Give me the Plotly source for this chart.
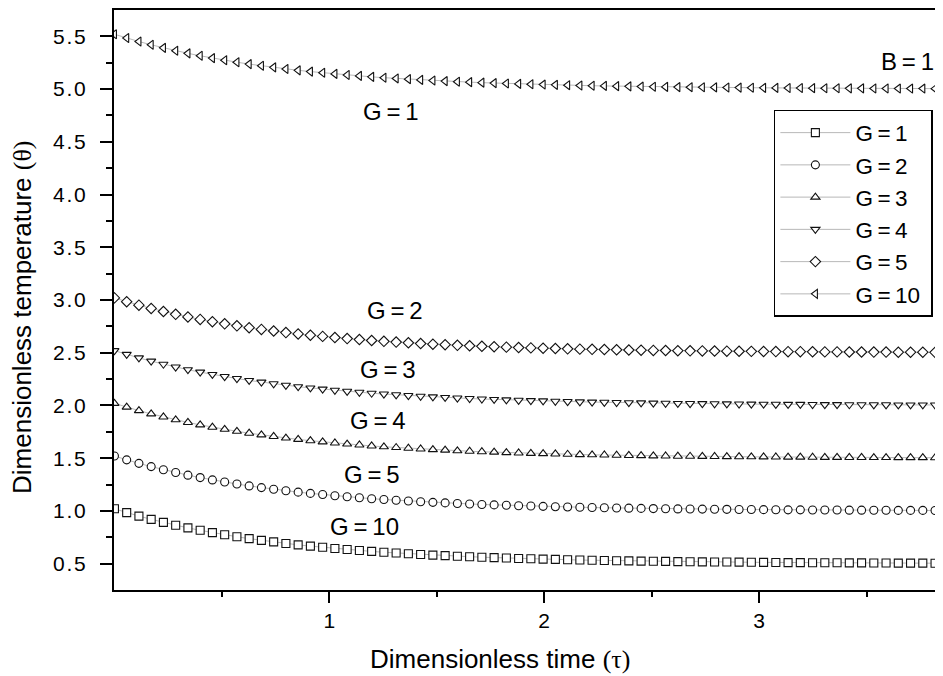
import plotly.graph_objects as go

tau = [0.000,0.057,0.114,0.171,0.228,0.285,0.342,0.399,0.456,0.513,
       0.570,0.627,0.684,0.741,0.798,0.855,0.912,0.969,1.026,1.083,
       1.140,1.197,1.254,1.311,1.368,1.425,1.482,1.539,1.596,1.653,
       1.710,1.767,1.824,1.881,1.938,1.995,2.052,2.109,2.166,2.223,
       2.280,2.337,2.394,2.451,2.508,2.565,2.622,2.679,2.736,2.793,
       2.850,2.907,2.964,3.021,3.078,3.135,3.192,3.249,3.306,3.363,
       3.420,3.477,3.534,3.591,3.648,3.705,3.762,3.819,3.876]

theta_sq = [1.020,0.984,0.951,0.920,0.891,0.864,0.839,0.816,0.794,0.774,
            0.755,0.737,0.721,0.706,0.691,0.678,0.666,0.655,0.644,0.634,
            0.625,0.616,0.608,0.601,0.594,0.587,0.581,0.576,0.570,0.566,
            0.561,0.557,0.553,0.549,0.546,0.543,0.540,0.537,0.534,0.532,
            0.530,0.528,0.526,0.524,0.522,0.521,0.519,0.518,0.517,0.516,
            0.515,0.514,0.513,0.512,0.511,0.510,0.510,0.509,0.508,0.508,
            0.507,0.507,0.506,0.506,0.505,0.505,0.505,0.504,0.504]

theta_ci = [1.520,1.484,1.451,1.420,1.391,1.364,1.339,1.316,1.294,1.274,
            1.255,1.237,1.221,1.206,1.191,1.178,1.166,1.155,1.144,1.134,
            1.125,1.116,1.108,1.101,1.094,1.087,1.081,1.076,1.070,1.066,
            1.061,1.057,1.053,1.049,1.046,1.043,1.040,1.037,1.034,1.032,
            1.030,1.028,1.026,1.024,1.022,1.021,1.019,1.018,1.017,1.016,
            1.015,1.014,1.013,1.012,1.011,1.010,1.010,1.009,1.008,1.008,
            1.007,1.007,1.006,1.006,1.005,1.005,1.005,1.004,1.004]

theta_tu = [2.020,1.984,1.951,1.920,1.891,1.864,1.839,1.816,1.794,1.774,
            1.755,1.737,1.721,1.706,1.691,1.678,1.666,1.655,1.644,1.634,
            1.625,1.616,1.608,1.601,1.594,1.587,1.581,1.576,1.570,1.566,
            1.561,1.557,1.553,1.549,1.546,1.543,1.540,1.537,1.534,1.532,
            1.530,1.528,1.526,1.524,1.522,1.521,1.519,1.518,1.517,1.516,
            1.515,1.514,1.513,1.512,1.511,1.510,1.510,1.509,1.508,1.508,
            1.507,1.507,1.506,1.506,1.505,1.505,1.505,1.504,1.504]

theta_td = [2.520,2.484,2.451,2.420,2.391,2.364,2.339,2.316,2.294,2.274,
            2.255,2.237,2.221,2.206,2.191,2.178,2.166,2.155,2.144,2.134,
            2.125,2.116,2.108,2.101,2.094,2.087,2.081,2.076,2.070,2.066,
            2.061,2.057,2.053,2.049,2.046,2.043,2.040,2.037,2.034,2.032,
            2.030,2.028,2.026,2.024,2.022,2.021,2.019,2.018,2.017,2.016,
            2.015,2.014,2.013,2.012,2.011,2.010,2.010,2.009,2.008,2.008,
            2.007,2.007,2.006,2.006,2.005,2.005,2.005,2.004,2.004]

theta_di = [3.020,2.984,2.951,2.920,2.891,2.864,2.839,2.816,2.794,2.774,
            2.755,2.737,2.721,2.706,2.691,2.678,2.666,2.655,2.644,2.634,
            2.625,2.616,2.608,2.601,2.594,2.587,2.581,2.576,2.570,2.566,
            2.561,2.557,2.553,2.549,2.546,2.543,2.540,2.537,2.534,2.532,
            2.530,2.528,2.526,2.524,2.522,2.521,2.519,2.518,2.517,2.516,
            2.515,2.514,2.513,2.512,2.511,2.510,2.510,2.509,2.508,2.508,
            2.507,2.507,2.506,2.506,2.505,2.505,2.505,2.504,2.504]

theta_tl = [5.520,5.484,5.451,5.420,5.391,5.364,5.339,5.316,5.294,5.274,
            5.255,5.237,5.221,5.206,5.191,5.178,5.166,5.155,5.144,5.134,
            5.125,5.116,5.108,5.101,5.094,5.087,5.081,5.076,5.070,5.066,
            5.061,5.057,5.053,5.049,5.046,5.043,5.040,5.037,5.034,5.032,
            5.030,5.028,5.026,5.024,5.022,5.021,5.019,5.018,5.017,5.016,
            5.015,5.014,5.013,5.012,5.011,5.010,5.010,5.009,5.008,5.008,
            5.007,5.007,5.006,5.006,5.005,5.005,5.005,5.004,5.004]

legend_names = ["G\u2009=\u20091", "G\u2009=\u20092", "G\u2009=\u20093",
                "G\u2009=\u20094", "G\u2009=\u20095", "G\u2009=\u200910"]
series = [theta_sq, theta_ci, theta_tu, theta_td, theta_di, theta_tl]
symbols = ["square", "circle", "triangle-up", "triangle-down", "diamond", "triangle-left"]

curve_labels = ["G\u2009=\u20091", "G\u2009=\u20092", "G\u2009=\u20093",
                "G\u2009=\u20094", "G\u2009=\u20095", "G\u2009=\u200910"]
label_x = [1.286, 1.304, 1.272, 1.225, 1.197, 1.164]
label_y = [4.783, 2.90, 2.34, 1.857, 1.345, 0.853]

y_tickvals = [0.5, 1.0, 1.5, 2.0, 2.5, 3.0, 3.5, 4.0, 4.5, 5.0, 5.5]
y_ticktext = ["0.5", "1.0", "1.5", "2.0", "2.5", "3.0", "3.5", "4.0", "4.5", "5.0", "5.5"]
x_tickvals = [1, 2, 3]
x_ticktext = ["1", "2", "3"]

FONT = "Arial, Liberation Sans, sans-serif"
HS = "\u200a"

fig = go.Figure()
for name, ys, sym in zip(legend_names, series, symbols):
    fig.add_trace(go.Scatter(
        x=tau, y=ys, name=name + "\u00a0", mode="lines+markers",
        line=dict(color="#888888", width=0.6),
        marker=dict(symbol=sym, size=8, color="white",
                    line=dict(color="#111111", width=1.1)),
        cliponaxis=True,
    ))

annotations = []
for t, lx, ly in zip(curve_labels, label_x, label_y):
    annotations.append(dict(x=lx, y=ly, xref="x", yref="y", text=t, showarrow=False,
                            font=dict(family=FONT, size=24, color="black"),
                            xanchor="center", yanchor="middle"))
annotations.append(dict(x=3.693, y=5.266, xref="x", yref="y", text="B\u2009=\u20091",
                        showarrow=False, font=dict(family=FONT, size=24, color="black"),
                        xanchor="center", yanchor="middle"))
annotations.append(dict(x=0.4656, y=-0.119, xref="paper", yref="paper",
                        text="Dimensionless time <span style=\"font-family:'Liberation Serif', 'Times New Roman', serif\">(\u03c4)</span>",
                        showarrow=False, font=dict(family=FONT, size=26, color="black"),
                        xanchor="center", yanchor="middle"))
annotations.append(dict(x=-0.111, y=0.4707, xref="paper", yref="paper", textangle=-90,
                        text="Dimensionless temperature <span style=\"font-family:'Liberation Serif', 'Times New Roman', serif\">(\u03b8)</span>",
                        showarrow=False, font=dict(family=FONT, size=26, color="black"),
                        xanchor="center", yanchor="middle"))

# the page body adds an 8px offset, so the figure is sized to end at the window edge
fig.update_layout(
    width=935, height=668,
    margin=dict(l=106, r=0, t=2, b=86),
    paper_bgcolor="white", plot_bgcolor="white",
    font=dict(family=FONT, color="black"),
    showlegend=True,
    legend=dict(x=0.796, y=0.8276, xanchor="left", yanchor="top",
                bordercolor="black", borderwidth=1.5, bgcolor="white",
                font=dict(family=FONT, size=22.5, color="black"),
                itemwidth=70, tracegroupgap=0),
    annotations=annotations,
    xaxis=dict(range=[-0.002, 3.856], showgrid=False, zeroline=False,
               showline=True, linecolor="black", linewidth=2, mirror=True,
               ticks="outside", ticklen=11, tickwidth=2, tickcolor="black",
               tickvals=x_tickvals, ticktext=x_ticktext,
               tickfont=dict(family=FONT, size=21, color="black"),
               ticklabelstandoff=0,
               minor=dict(tickvals=[0.5, 1.5, 2.5, 3.5], ticks="outside", ticklen=5,
                          tickwidth=2, tickcolor="black")),
    yaxis=dict(range=[0.25, 5.75], showgrid=False, zeroline=False,
               showline=True, linecolor="black", linewidth=2, mirror=False,
               ticks="outside", ticklen=12, tickwidth=2, tickcolor="black",
               tickvals=y_tickvals, ticktext=[HS.join(t) for t in y_ticktext],
               tickfont=dict(family=FONT, size=21, color="black"),
               ticklabelstandoff=10,
               minor=dict(tickvals=[0.75, 1.25, 1.75, 2.25, 2.75, 3.25, 3.75, 4.25, 4.75, 5.25],
                          ticks="outside", ticklen=6, tickwidth=2, tickcolor="black")),
)

fig.write_html("out.html")
